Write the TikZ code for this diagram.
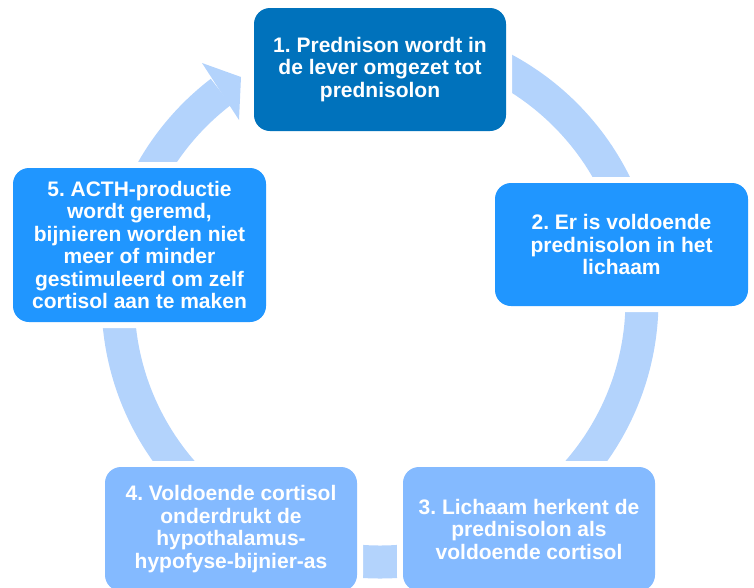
\documentclass[tikz,border=0pt]{standalone}
\usepackage{fontspec}
\setmainfont{Liberation Sans}
\frenchspacing
\definecolor{darkb}{HTML}{0072BC}
\definecolor{midb}{HTML}{2096FF}
\definecolor{lightb}{HTML}{84BAFF}
\definecolor{ringb}{HTML}{B3D3FC}
\tikzset{
  stepbox/.style={rectangle, rounded corners=16pt, draw=none,
    preaction={draw=white, line width=12pt},
    text=white, font=\bfseries\fontsize{21}{22.5}\selectfont, align=center,
    inner sep=0pt, outer sep=0pt, anchor=north west},
  ring/.style={draw=ringb, line width=33pt},
  ringhead/.style={fill=ringb, draw=none}
}
\begin{document}
\begin{tikzpicture}[x=1pt,y=-1pt]
\useasboundingbox (0,0) rectangle (754,587);
% ring
\draw[ring] (380,38) arc[start angle=-90, end angle=232.6, radius=262];
\fill[ringhead] (202,63) -- (241,77) -- (239,120) -- cycle;
% boxes
\node[stepbox, fill=darkb, minimum width=252pt, minimum height=123pt] (b1) at (254,8)
  {1. Prednison wordt in\\de lever omgezet tot\\prednisolon};
\node[stepbox, fill=midb, minimum width=253pt, minimum height=123pt] (b2) at (495,183)
  {2. Er is voldoende\\prednisolon in het\\lichaam};
\node[stepbox, fill=lightb, minimum width=252pt, minimum height=124pt] (b3) at (403,467)
  {3. Lichaam herkent de\\prednisolon als\\voldoende cortisol};
\node[stepbox, fill=lightb, minimum width=252pt, minimum height=124pt] (b4) at (105,467)
  {4. Voldoende cortisol\\onderdrukt de\\hypothalamus-\\hypofyse-bijnier-as};
\node[stepbox, fill=midb, minimum width=253pt, minimum height=154pt] (b5) at (13,168)
  {5. ACTH-productie\\wordt geremd,\\bijnieren worden niet\\meer of minder\\gestimuleerd om zelf\\cortisol aan te maken};
\end{tikzpicture}
\end{document}
